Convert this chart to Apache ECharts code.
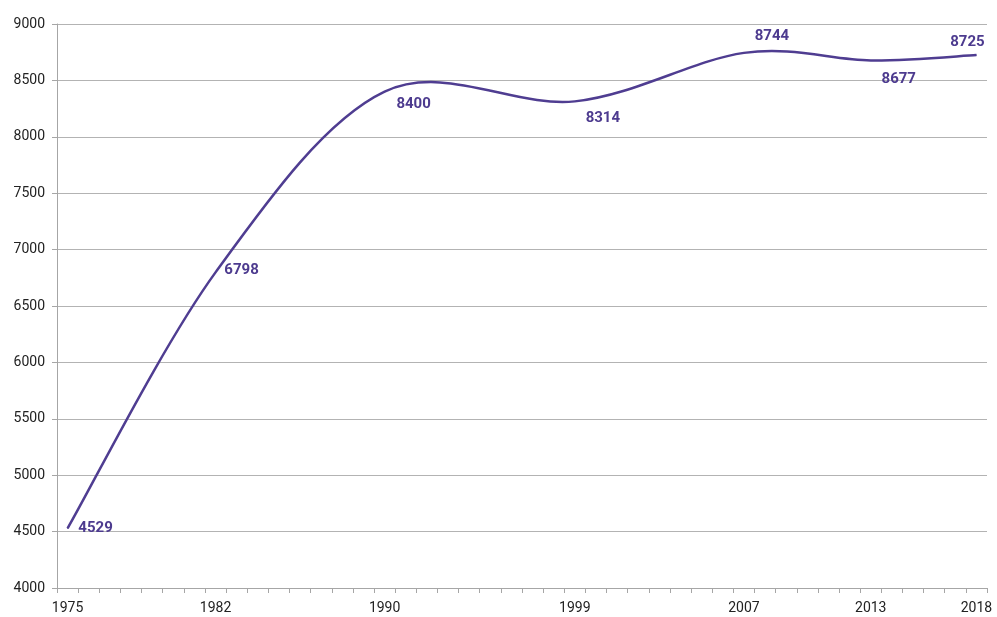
<!DOCTYPE html>
<html>
<head>
<meta charset="utf-8">
<script src="https://cdn.jsdelivr.net/npm/echarts@6/dist/echarts.min.js"></script>
<style>
  html, body { margin: 0; padding: 0; background: #fff; }
  #main { width: 997px; height: 617px; }
</style>
</head>
<body>
<div id="main"></div>
<script>
// every year on the axis, only some get a label
const firstYear = 1975
const lastYear = 2018
const labelYears = ['1975', '1982', '1990', '1999', '2007', '2013', '2018']
const pointYears = ['1975', '1982', '1990', '1999', '2007', '2013', '2018']
const pointValues = [4529, 6798, 8400, 8314, 8744, 8677, 8725]
// where each value label sits relative to its point
const labelOffsets = [[28, 0], [26, -2], [29, 13], [28, 17], [28, -17], [28, 19], [-9, -13]]

const allYears = []
for (let y = firstYear; y <= lastYear; y++) allYears.push(String(y))

const lineColor = '#4f3d91'
const pointData = pointYears.map(function (y, i) { return [y, pointValues[i]] })

// smooth curve like a spreadsheet "smoothed line": catmull-rom through the points
function renderCurve (params, api) {
  if (params.dataIndexInside !== 0) return null
  const pts = []
  for (let i = 0; i < params.dataInsideLength; i++) {
    pts.push(api.coord([api.value(0, i), api.value(1, i)]))
  }
  let d = 'M' + pts[0][0] + ' ' + pts[0][1]
  for (let i = 0; i < pts.length - 1; i++) {
    const p0 = pts[Math.max(i - 1, 0)]
    const p1 = pts[i]
    const p2 = pts[i + 1]
    const p3 = pts[Math.min(i + 2, pts.length - 1)]
    const c1x = p1[0] + (p2[0] - p0[0]) / 6
    const c1y = p1[1] + (p2[1] - p0[1]) / 6
    const c2x = p2[0] - (p3[0] - p1[0]) / 6
    const c2y = p2[1] - (p3[1] - p1[1]) / 6
    d += ' C' + c1x + ' ' + c1y + ' ' + c2x + ' ' + c2y + ' ' + p2[0] + ' ' + p2[1]
  }
  return {
    type: 'path',
    shape: { pathData: d },
    style: { stroke: lineColor, fill: null, lineWidth: 2.5 }
  }
}

const option = {
  animation: false,
  backgroundColor: '#fff',
  grid: { left: 57, right: 10, top: 24, bottom: 29 },
  xAxis: {
    type: 'category',
    data: allYears,
    boundaryGap: true,
    axisLine: { lineStyle: { color: '#a6a6a6', width: 1 } },
    axisTick: { show: true, interval: 0, length: 5, lineStyle: { color: '#a6a6a6' } },
    axisLabel: {
      interval: function (index, value) { return labelYears.indexOf(value) >= 0 },
      color: '#222',
      fontFamily: 'Roboto',
      fontSize: 14,
      margin: 13
    },
    splitLine: { show: false }
  },
  yAxis: {
    type: 'value',
    min: 4000,
    max: 9000,
    interval: 500,
    axisLine: { show: true, lineStyle: { color: '#a6a6a6', width: 1 } },
    axisTick: { show: true, length: 5, lineStyle: { color: '#a6a6a6' } },
    axisLabel: {
      color: '#222',
      fontFamily: 'Roboto',
      fontSize: 14,
      margin: 12,
      formatter: function (v) { return String(v) }
    },
    splitLine: { lineStyle: { color: '#b3b3b3', width: 1 } }
  },
  series: [
    {
      type: 'custom',
      renderItem: renderCurve,
      encode: { x: 0, y: 1 },
      data: pointData,
      z: 2
    },
    {
      type: 'scatter',
      symbol: 'circle',
      symbolSize: 1,
      itemStyle: { color: lineColor, opacity: 1 },
      z: 3,
      data: pointData.map(function (p, i) {
        return {
          value: p,
          label: {
            show: true,
            position: 'inside',
            offset: labelOffsets[i],
            formatter: String(pointValues[i]),
            color: '#4d3b8f',
            opacity: 1,
            fontFamily: 'Roboto',
            fontWeight: 'bold',
            fontSize: 15
          }
        }
      })
    }
  ]
}

const chart = echarts.init(document.getElementById('main'))
chart.setOption(option)
</script>
</body>
</html>
